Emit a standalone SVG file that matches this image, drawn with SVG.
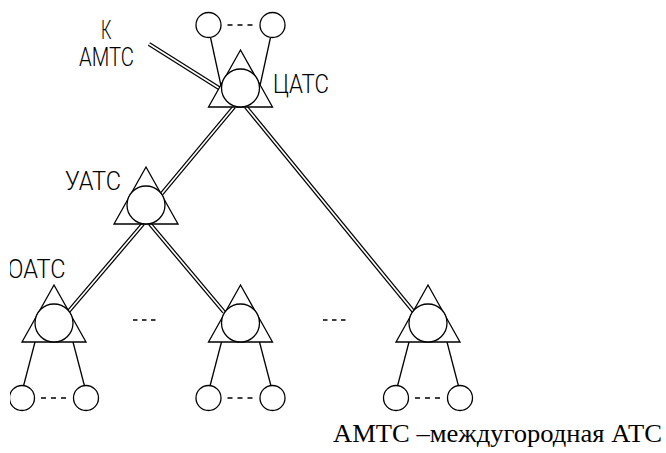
<svg xmlns="http://www.w3.org/2000/svg" xmlns:xlink="http://www.w3.org/1999/xlink" width="666" height="453" viewBox="0 0 666 453">
  <style>
    .ln { fill: none; stroke: #000; stroke-width: 1.3; }
    .st { fill: #fff; stroke: #000; stroke-width: 1.3; }
    .trunk-o { fill: none; stroke: #000; stroke-width: 4.2; }
    .trunk-i { fill: none; stroke: #fff; stroke-width: 1.7; }
    .dots { fill: none; stroke: #000; stroke-width: 1.3; stroke-dasharray: 5 5; }
    .gap { fill: none; stroke: #000; stroke-width: 1.3; stroke-dasharray: 4.5 4.5; }
    .cad { font-family: Roboto, "DejaVu Sans", sans-serif; font-weight: 300; font-size: 25px; fill: #000; }
    .note { font-family: "Liberation Serif", "Times New Roman", serif; font-size: 26px; fill: #000; }
  </style>
  <defs>
    <!-- exchange symbol: triangle with inscribed circle, origin at circle centre -->
    <g id="station">
      <polygon class="st" points="0,-38 -32,19 32,19"/>
      <circle class="st" cx="0" cy="0" r="19"/>
    </g>
    <clipPath id="sheet">
      <rect x="10" y="0" width="656" height="453"/>
    </clipPath>
  </defs>
  <rect width="666" height="453" fill="#fff"/>

  <g clip-path="url(#sheet)">
    <!-- subscriber lines -->
    <g id="connectors">
      <line class="ln" x1="210.5" y1="37.5" x2="221.5" y2="88"/>
      <line class="ln" x1="270.5" y1="37.5" x2="259.5" y2="88"/>
      <line class="ln" x1="35" y1="342" x2="23.5" y2="386"/>
      <line class="ln" x1="73" y1="342" x2="84.5" y2="386"/>
      <line class="ln" x1="221.5" y1="342" x2="210" y2="386"/>
      <line class="ln" x1="259.5" y1="342" x2="271" y2="386"/>
      <line class="ln" x1="409" y1="342" x2="397.5" y2="386"/>
      <line class="ln" x1="447" y1="342" x2="458.5" y2="386"/>
      <!-- trunk lines (double) -->
      <g id="trunks">
        <line class="trunk-o" x1="149" y1="44" x2="220.5" y2="89"/>
        <line class="trunk-o" x1="234" y1="107" x2="161.5" y2="194"/>
        <line class="trunk-o" x1="246" y1="107" x2="413.5" y2="311.5"/>
        <line class="trunk-o" x1="143" y1="224" x2="68.5" y2="311.5"/>
        <line class="trunk-o" x1="150" y1="224" x2="224" y2="312"/>
        <line class="trunk-i" x1="149" y1="44" x2="220.5" y2="89"/>
        <line class="trunk-i" x1="234" y1="107" x2="161.5" y2="194"/>
        <line class="trunk-i" x1="246" y1="107" x2="413.5" y2="311.5"/>
        <line class="trunk-i" x1="143" y1="224" x2="68.5" y2="311.5"/>
        <line class="trunk-i" x1="150" y1="224" x2="224" y2="312"/>
      </g>
      <!-- omitted items -->
      <line class="gap" x1="133" y1="320" x2="155.5" y2="320"/>
      <line class="gap" x1="323" y1="320" x2="345.5" y2="320"/>
    </g>

    <!-- exchanges -->
    <g id="tsats">
      <use xlink:href="#station" href="#station" x="240.5" y="88"/>
      <text class="cad" x="273" y="93" textLength="56" lengthAdjust="spacingAndGlyphs">ЦАТС</text>
    </g>
    <g id="uats">
      <use xlink:href="#station" href="#station" x="146" y="205"/>
      <text class="cad" x="65" y="190" textLength="56" lengthAdjust="spacingAndGlyphs">УАТС</text>
    </g>
    <g id="oats-1">
      <use xlink:href="#station" href="#station" x="54" y="323"/>
      <text class="cad" x="7.5" y="278" textLength="58" lengthAdjust="spacingAndGlyphs">ОАТС</text>
    </g>
    <g id="oats-2">
      <use xlink:href="#station" href="#station" x="240.5" y="323"/>
    </g>
    <g id="oats-3">
      <use xlink:href="#station" href="#station" x="428" y="323"/>
    </g>

    <!-- subscribers -->
    <g id="sub-ts">
      <circle class="st" cx="208.5" cy="25" r="12.5"/>
      <circle class="st" cx="272.5" cy="25" r="12.5"/>
      <line class="dots" x1="227.5" y1="25" x2="252.5" y2="25"/>
    </g>
    <g id="sub-o1">
      <circle class="st" cx="22" cy="398" r="12.5"/>
      <circle class="st" cx="86" cy="398" r="12.5"/>
      <line class="dots" x1="41" y1="398" x2="66" y2="398"/>
    </g>
    <g id="sub-o2">
      <circle class="st" cx="208.5" cy="398" r="12.5"/>
      <circle class="st" cx="272.5" cy="398" r="12.5"/>
      <line class="dots" x1="227.5" y1="398" x2="252.5" y2="398"/>
    </g>
    <g id="sub-o3">
      <circle class="st" cx="396" cy="398" r="12.5"/>
      <circle class="st" cx="460" cy="398" r="12.5"/>
      <line class="dots" x1="415" y1="398" x2="440" y2="398"/>
    </g>

    <!-- long-distance exchange link label -->
    <g id="amts">
      <text class="cad" x="101" y="38.5" font-size="24" textLength="10.5" lengthAdjust="spacingAndGlyphs">К</text>
      <text class="cad" x="79" y="66" textLength="55" lengthAdjust="spacingAndGlyphs">АМТС</text>
    </g>
  </g>

  <text class="note" x="333" y="442" textLength="329" lengthAdjust="spacingAndGlyphs">АМТС –междугородная АТС</text>
</svg>
